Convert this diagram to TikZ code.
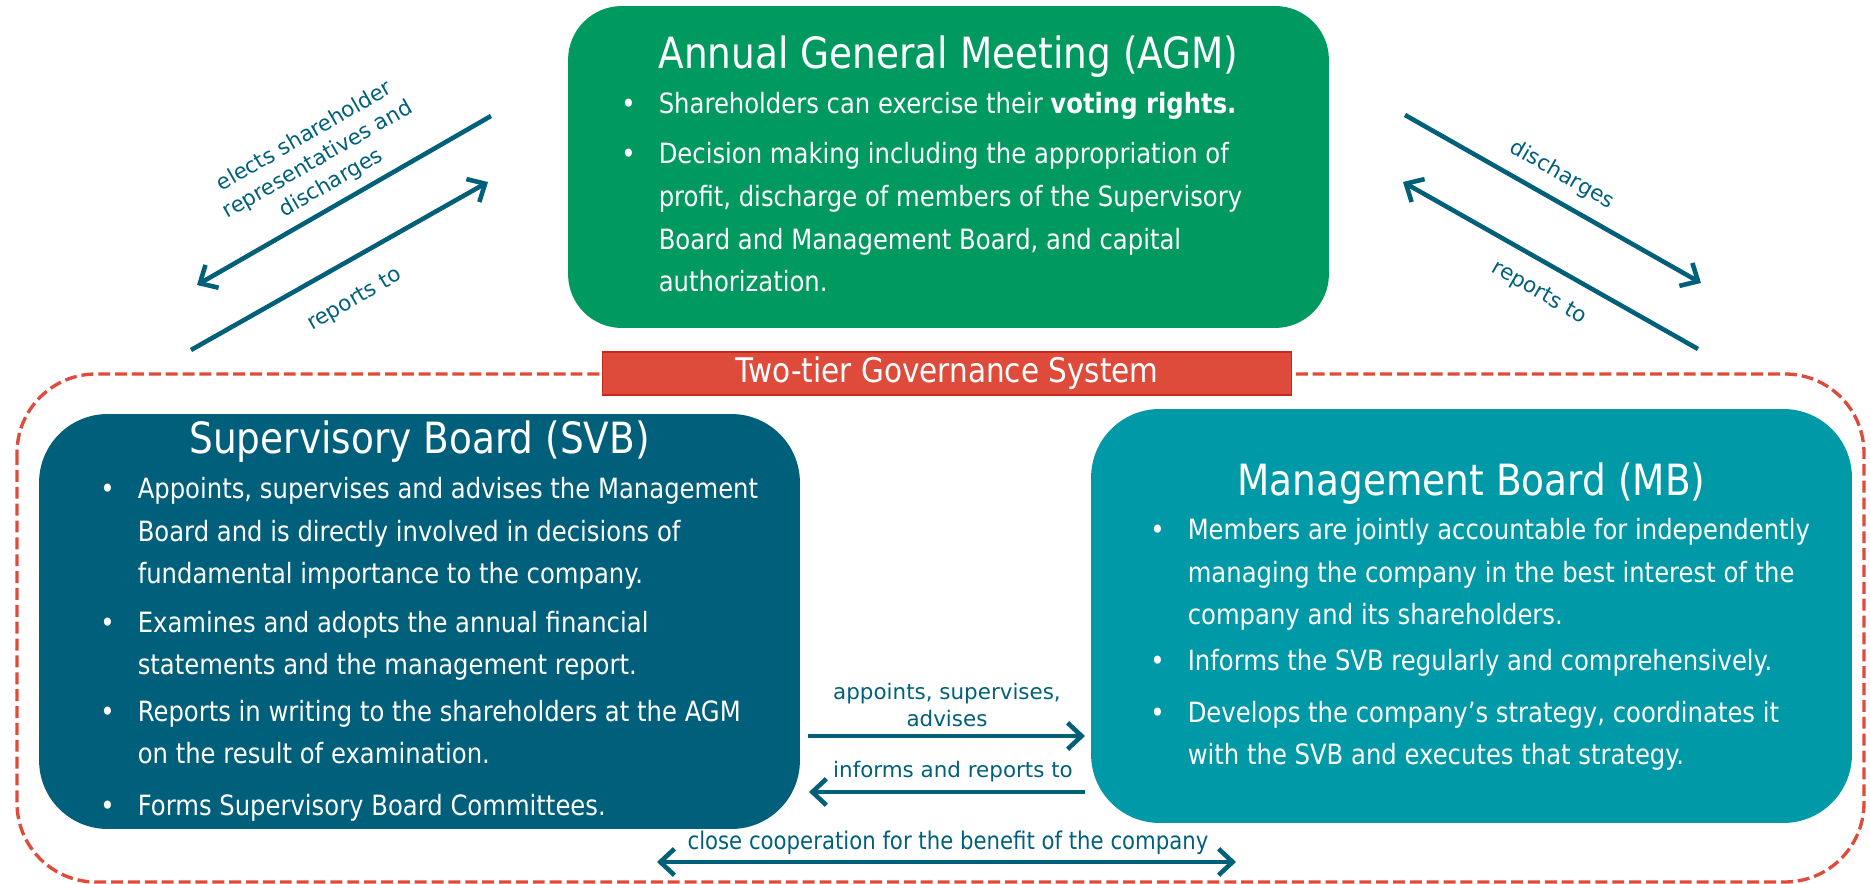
\documentclass[tikz,border=0pt]{standalone}
\usepackage{fontspec}
\setmainfont{DejaVu Sans}
\newfontfamily\boxfont[FakeStretch=0.87]{DejaVu Sans}
\usetikzlibrary{arrows.meta}
\definecolor{agmgreen}{RGB}{0,153,96}
\definecolor{svbblue}{RGB}{0,95,122}
\definecolor{mbteal}{RGB}{0,153,168}
\definecolor{tierred}{RGB}{222,75,58}
\definecolor{tierline}{RGB}{200,40,30}
\definecolor{flow}{RGB}{0,96,122}
\newcommand{\bl}{\makebox[21.3pt][l]{\textbullet}}
\newcommand{\ind}{\hspace*{21.3pt}}

\begin{document}
\begin{tikzpicture}[x=0.02cm,y=-0.02cm,>={Straight Barb[length=8pt,width=15pt]},
    board/.style={rounded corners=#1, inner sep=0pt, minimum width=15.22cm},
    boardtitle/.style={text=white, inner sep=0pt, anchor=base, font=\boxfont\fontsize{24.5}{29}\selectfont},
    item/.style={text=white, inner sep=0pt, anchor=base west, align=left, font=\boxfont\fontsize{15.9}{24.4}\selectfont},
    flowlabel/.style={text=flow, inner sep=0pt, align=center, font=\fontsize{12.2}{15.3}\selectfont},
    flowarrow/.style={draw=flow, line width=2.6pt}]
            \useasboundingbox (0,0) rectangle (1870,884);
            \draw [tierred, line width=1.9pt, dash pattern=on 6.8pt off 2.8pt, rounded corners=45pt] (17,374) rectangle (1864,882);
            \node [fill=tierred, draw=tierline, line width=0.6pt, minimum width=13.8cm, minimum height=0.86cm, inner sep=0pt, text=white, font=\boxfont\fontsize{19.3}{22}\selectfont] (tier) at (947,373.5) {Two-tier Governance System};
            \node [board=30.6pt, fill=agmgreen, minimum height=6.44cm] (agm) at (948.5,167) {};
            \node [board=39pt, fill=svbblue, minimum height=8.3cm] (svb) at (419.5,621.5) {};
            \node [board=39pt, fill=mbteal, minimum height=8.28cm] (mb) at (1471.5,616) {};
            \node [boardtitle] (agmtitle) at (948.5,69) {Annual General Meeting (AGM)};
            \node [boardtitle] (svbtitle) at (419.5,454) {Supervisory Board (SVB)};
            \node [boardtitle] (mbtitle) at (1471.5,496) {Management Board (MB)};
            \node [item] (agm1) at (621,114) {\bl Shareholders can exercise their \textbf{voting rights.}};
            \node [item] (agm2) at (621,292) {\bl Decision making including the appropriation of\\\ind profit, discharge of members of the Supervisory\\\ind Board and Management Board, and capital\\\ind authorization.};
            \node [item] (svb1) at (100,584) {\bl Appoints, supervises and advises the Management\\\ind Board and is directly involved in decisions of\\\ind fundamental importance to the company.};
            \node [item] (svb2) at (100,675) {\bl Examines and adopts the annual financial\\\ind statements and the management report.};
            \node [item] (svb3) at (100,764) {\bl Reports in writing to the shareholders at the AGM\\\ind on the result of examination.};
            \node [item] (svb4) at (100,815) {\bl Forms Supervisory Board Committees.};
            \node [item] (mb1) at (1150,625) {\bl Members are jointly accountable for independently\\\ind managing the company in the best interest of the\\\ind company and its shareholders.};
            \node [item] (mb2) at (1150,671) {\bl Informs the SVB regularly and comprehensively.};
            \node [item] (mb3) at (1150,765) {\bl Develops the company’s strategy, coordinates it\\\ind with the SVB and executes that strategy.};
            \coordinate (el0) at (491,116);
            \coordinate (el1) at (197,285);
            \coordinate (rl0) at (191,350);
            \coordinate (rl1) at (488,182);
            \coordinate (dr0) at (1405,115);
            \coordinate (dr1) at (1701,283);
            \coordinate (rr0) at (1698,349);
            \coordinate (rr1) at (1403,182);
            \coordinate (ap0) at (808,736);
            \coordinate (ap1) at (1085,736);
            \coordinate (in0) at (1085,792);
            \coordinate (in1) at (809,792);
            \coordinate (co0) at (657,862);
            \coordinate (co1) at (1236,862);
            \draw [flowarrow, ->] (el0) -- (el1);
            \draw [flowarrow, ->] (rl0) -- (rl1);
            \draw [flowarrow, ->] (dr0) -- (dr1);
            \draw [flowarrow, ->] (rr0) -- (rr1);
            \draw [flowarrow, ->] (ap0) -- (ap1);
            \draw [flowarrow, ->] (in0) -- (in1);
            \draw [flowarrow, <->] (co0) -- (co1);
            \node [flowlabel, rotate=30] (ell) at (318,160) {elects shareholder\\representatives and\\discharges};
            \node [flowlabel, rotate=30] (rll) at (355,300) {reports to};
            \node [flowlabel, rotate=-30] (drl) at (1562,175) {discharges};
            \node [flowlabel, rotate=-30] (rrl) at (1539,293) {reports to};
            \node [flowlabel] (apl) at (947,705) {appoints, supervises,\\advises};
            \node [flowlabel] (inl) at (953,772) {informs and reports to};
            \node [flowlabel, font=\boxfont\fontsize{13.9}{16}\selectfont] (col) at (948,843) {close cooperation for the benefit of the company};
        \end{tikzpicture}
\end{document}
